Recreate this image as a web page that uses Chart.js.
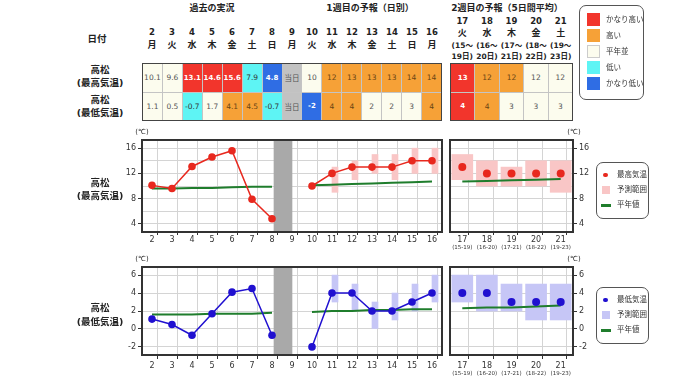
<!DOCTYPE html>
<html lang="ja">
<head>
<meta charset="utf-8">
<title>高松 2週間気温予報</title>
<script src="https://cdn.jsdelivr.net/npm/chart.js@4.4.1/dist/chart.umd.min.js"></script>
<style>
  body { margin: 0; }
  #page { position: relative; width: 680px; height: 382px; background: #fff; overflow: hidden;
          font-family: "DejaVu Sans", "Noto Sans CJK JP", sans-serif; color: #222; }
  .t { position: absolute; transform: translate(-50%, -50%); white-space: nowrap; font-weight: bold; line-height: 1; }
  .tl { position: absolute; transform: translate(0, -50%); white-space: nowrap; line-height: 1; font-size: 7.5px; color: #333; }
  canvas { position: absolute; }
  .tbl { position: absolute; display: grid; border: 1px solid #444; box-sizing: border-box; background: #c4c4c4; gap: 1px; }
  .cell { display: flex; align-items: center; justify-content: center; font-size: 7.5px; }
  .box { position: absolute; border: 1px solid #555; border-radius: 7px; box-sizing: border-box; background: #fff; }
  .sw { position: absolute; }
</style>
</head>
<body>
<div id="page">
  <canvas id="maxChart" width="350" height="130" style="left:100px;top:126px"></canvas>
  <canvas id="maxW2Chart" width="160" height="130" style="left:442px;top:126px"></canvas>
  <canvas id="minChart" width="350" height="129" style="left:100px;top:253px"></canvas>
  <canvas id="minW2Chart" width="160" height="129" style="left:442px;top:253px"></canvas>
</div>
<script>
// 日付（過去の実況〜1週目）
const days = [2, 3, 4, 5, 6, 7, 8, 9, 10, 11, 12, 13, 14, 15, 16];
const dayNames = ['月', '火', '水', '木', '金', '土', '日', '月', '火', '水', '木', '金', '土', '日', '月'];
const todayDay = 9;

const maxTemp = [10.1, 9.6, 13.1, 14.6, 15.6, 7.9, 4.8, null, 10, 12, 13, 13, 13, 14, 14];
const minTemp = [1.1, 0.5, -0.7, 1.7, 4.1, 4.5, -0.7, null, -2, 4, 4, 2, 2, 3, 4];
const maxClass = ['n', 'n', 'vh', 'vh', 'vh', 'l', 'vl', 't', 'n', 'h', 'h', 'h', 'h', 'h', 'h'];
const minClass = ['n', 'n', 'l', 'n', 'h', 'h', 'l', 't', 'vl', 'h', 'h', 'n', 'n', 'n', 'h'];
const maxNormal = [9.6, 9.6, 9.7, 9.7, 9.8, 9.9, 9.9, null, 10.1, 10.2, 10.3, 10.4, 10.5, 10.6, 10.7];
const minNormal = [1.6, 1.6, 1.6, 1.7, 1.7, 1.7, 1.8, null, 1.9, 2.0, 2.0, 2.1, 2.1, 2.2, 2.2];

// 予測範囲（11〜16日）
const rangeDays = [11, 12, 13, 14, 15, 16];
const maxRangeLo = [9, 11, 12, 11, 12, 12];
const maxRangeHi = [13, 14, 15, 15, 16, 16];
const minRangeLo = [3, 2, 0, 1, 2, 3];
const minRangeHi = [6, 5, 3, 4, 5, 6];

// 2週目（5日間平均）
const w2Days = [17, 18, 19, 20, 21];
const w2Names = ['火', '水', '木', '金', '土'];
const w2From = [15, 16, 17, 18, 19];
const w2To = [19, 20, 21, 22, 23];
const w2Max = [13, 12, 12, 12, 12];
const w2Min = [4, 4, 3, 3, 3];
const w2MaxClass = ['vh', 'h', 'h', 'n', 'n'];
const w2MinClass = ['vh', 'h', 'n', 'n', 'n'];
const w2MaxLo = [11, 10, 10, 10, 9];
const w2MaxHi = [15, 14, 13, 14, 14];
const w2MinLo = [3, 2, 2, 1, 1];
const w2MinHi = [6, 6, 5, 5, 5];
const w2MaxNormal = [10.7, 10.8, 10.9, 11.0, 11.1];
const w2MinNormal = [2.3, 2.4, 2.4, 2.5, 2.6];

// 縦軸
const maxTicks = [4, 6, 8, 10, 12, 14, 16];
const minTicks = [-2, 0, 2, 4, 6];
const maxExtent = [2.7, 17.3];
const minExtent = [-2.9, 6.9];

// 階級
const levelKeys = ['vh', 'h', 'n', 'l', 'vl'];
const levelNames = ['かなり高い', '高い', '平年並', '低い', 'かなり低い'];
const levelColors = { vh: '#f2352c', h: '#f6a137', n: '#fcfcee', l: '#5ef4f4', vl: '#2f6de4', t: '#c2c2c2' };
const levelText = { vh: '#fff', h: '#6a4514', n: '#555', l: '#333', vl: '#fff', t: '#555' };

const page = document.getElementById('page');

function txt(x, y, s, size, extra) {
  const el = document.createElement('div');
  el.className = 't';
  el.style.left = x + 'px';
  el.style.top = y + 'px';
  el.style.fontSize = size + 'px';
  if (extra) Object.assign(el.style, extra);
  el.textContent = s;
  page.appendChild(el);
  return el;
}

function ltxt(x, y, s) {
  const el = document.createElement('div');
  el.className = 'tl';
  el.style.left = x + 'px';
  el.style.top = y + 'px';
  el.textContent = s;
  page.appendChild(el);
}

function swatch(x, y, w, h, color, round) {
  const el = document.createElement('div');
  el.className = 'sw';
  Object.assign(el.style, { left: x + 'px', top: y + 'px', width: w + 'px', height: h + 'px', background: color });
  if (round) el.style.borderRadius = '50%';
  page.appendChild(el);
  return el;
}

// 見出し
txt(212, 8, '過去の実況', 9);
txt(370, 8, '1週目の予報（日別）', 9);
txt(507, 8, '2週目の予報（5日間平均）', 9);
txt(97, 39, '日付', 9.5);
txt(100, 70, '高松', 9.5);
txt(100, 83, '(最高気温)', 9.5);
txt(100, 100, '高松', 9.5);
txt(100, 113, '(最低気温)', 9.5);
txt(100, 183, '高松', 9.5);
txt(100, 196, '(最高気温)', 9.5);
txt(100, 308, '高松', 9.5);
txt(100, 322, '(最低気温)', 9.5);

days.forEach((d, i) => {
  const x = 152 + 20 * i;
  txt(x, 32, String(d), 8.5);
  txt(x, 45, dayNames[i], 9);
});
w2Days.forEach((d, i) => {
  const x = 450 + 24.6 * (i + 0.5);
  txt(x, 21, String(d), 8.5);
  txt(x, 33, w2Names[i], 9);
  txt(x, 46, '(' + w2From[i] + '～', 7.5);
  txt(x, 57, w2To[i] + '日)', 7.5);
});

// 表
function table(left, width, cols, rows) {
  const g = document.createElement('div');
  g.className = 'tbl';
  Object.assign(g.style, { left: left + 'px', top: '63px', width: width + 'px', height: '58px',
    gridTemplateColumns: 'repeat(' + cols + ', 1fr)', gridTemplateRows: '1fr 1fr' });
  rows.forEach(r => r.forEach(c => {
    const el = document.createElement('div');
    el.className = 'cell';
    el.style.background = levelColors[c.cls];
    el.style.color = levelText[c.cls];
    if (c.cls === 'vh' || c.cls === 'vl') {
      el.style.fontWeight = 'bold';
      el.style.fontSize = '7px';
    }
    el.textContent = c.text;
    g.appendChild(el);
  }));
  page.appendChild(g);
}

function cellText(v, d) {
  if (v === null) return '当日';
  return d < todayDay ? v.toFixed(1) : String(v);
}

table(142, 300, 15, [
  days.map((d, i) => ({ text: cellText(maxTemp[i], d), cls: maxClass[i] })),
  days.map((d, i) => ({ text: cellText(minTemp[i], d), cls: minClass[i] }))
]);
table(450, 123, 5, [
  w2Days.map((d, i) => ({ text: String(w2Max[i]), cls: w2MaxClass[i] })),
  w2Days.map((d, i) => ({ text: String(w2Min[i]), cls: w2MinClass[i] }))
]);

// 階級の凡例
const lb = document.createElement('div');
lb.className = 'box';
Object.assign(lb.style, { left: '579px', top: '5px', width: '65px', height: '95px' });
page.appendChild(lb);
levelKeys.forEach((k, i) => {
  const y = 19.5 + 16 * i;
  const s = swatch(587, y - 6.5, 13, 13, levelColors[k]);
  if (k === 'n') {
    s.style.boxSizing = 'border-box';
    s.style.border = '1px solid #ccc';
  }
  ltxt(606, y, levelNames[i]);
});

// グラフの凡例
function chartLegend(top, color, rangeColor, name) {
  const b = document.createElement('div');
  b.className = 'box';
  Object.assign(b.style, { left: '596px', top: top + 'px', width: '53px', height: '57px' });
  page.appendChild(b);
  swatch(603, top + 10.5, 4.5, 4.5, color, true);
  ltxt(617, top + 13, name);
  swatch(602, top + 24, 8, 8, rangeColor);
  ltxt(617, top + 28, '予測範囲');
  swatch(601, top + 42, 10, 2.5, '#1f7d2c');
  ltxt(617, top + 43, '平年値');
}
chartLegend(162, '#e8281e', '#f9c6c6', '最高気温');
chartLegend(287, '#2010d0', '#c6c6f6', '最低気温');

txt(142, 132, '(℃)', 7, { fontWeight: 'normal' });
txt(574, 132, '(℃)', 7, { fontWeight: 'normal' });
txt(142, 259, '(℃)', 7, { fontWeight: 'normal' });
txt(574, 259, '(℃)', 7, { fontWeight: 'normal' });

// グラフ
const frame = {
  id: 'frame',
  afterDatasetsDraw(chart) {
    const a = chart.chartArea, c = chart.ctx;
    c.save();
    c.strokeStyle = '#333';
    c.lineWidth = 2;
    c.strokeRect(a.left, a.top, a.right - a.left, a.bottom - a.top);
    c.restore();
  }
};

const tickFont = { family: 'DejaVu Sans', size: 8 };
const isInt = c => c.tick && Number.isInteger(c.tick.value);

function dayAxis(lo, hi, height, tickLen, pad) {
  return {
    type: 'linear', min: lo, max: hi, offset: false,
    afterBuildTicks: s => {
      const t = [];
      for (let v = lo; v <= hi + 0.01; v += 0.5) t.push({ value: v });
      s.ticks = t;
    },
    afterFit: s => { s.height = height; },
    grid: {
      color: c => isInt(c) ? 'rgba(0,0,0,0)' : '#d4d4d4',
      tickColor: c => isInt(c) ? 'rgba(0,0,0,0)' : '#333',
      tickLength: tickLen
    },
    border: { display: false },
    ticks: { autoSkip: false, maxRotation: 0, padding: pad, color: '#333', font: tickFont,
      callback: v => Number.isInteger(v) ? String(v) : '' }
  };
}

function tempAxis(ext, ticks, every, pos, width) {
  return {
    type: 'linear', position: pos, min: ext[0], max: ext[1],
    afterBuildTicks: s => { s.ticks = ticks.map(v => ({ value: v })); },
    afterFit: s => { s.width = width; },
    grid: { color: '#d4d4d4', tickColor: c => (c.tick && c.tick.value % every === 0) ? '#333' : 'rgba(0,0,0,0)', tickLength: 4 },
    border: { display: false },
    ticks: { padding: 2, color: '#333', font: tickFont, callback: v => v % every === 0 ? String(v) : '' }
  };
}

function subAxis(height) {
  return {
    type: 'linear', min: 16.5, max: 21.5, offset: false, position: 'bottom', weight: 1,
    afterBuildTicks: s => { s.ticks = w2Days.map(v => ({ value: v })); },
    afterFit: s => { s.height = height; },
    grid: { display: false, drawTicks: false },
    border: { display: false },
    ticks: { autoSkip: false, maxRotation: 0, padding: 0, color: '#333', font: { family: 'DejaVu Sans', size: 5.5 },
      callback: v => { const i = w2Days.indexOf(v); return '(' + w2From[i] + '-' + w2To[i] + ')'; } }
  };
}

function drawChart(id, datasets, scales, padding) {
  new Chart(document.getElementById(id), {
    type: 'line',
    data: { datasets },
    options: {
      responsive: false, animation: false, events: [],
      layout: { padding },
      plugins: { legend: { display: false }, tooltip: { enabled: false } },
      scales
    },
    plugins: [frame]
  });
}

function dailyChart(id, ext, ticks, every, vals, normals, lo, hi, color, rangeColor, xh, tl, pad) {
  drawChart(id, [
    { type: 'bar', xAxisID: 'xb', data: [{ x: todayDay, y: ext }], backgroundColor: '#a9a9a9',
      barThickness: 18, order: 5 },
    { type: 'bar', data: rangeDays.map((d, i) => ({ x: d, y: [lo[i], hi[i]] })), backgroundColor: rangeColor,
      barThickness: 6, order: 4 },
    { data: days.map((d, i) => ({ x: d, y: normals[i] })), borderColor: '#1f7d2c', borderWidth: 2,
      pointRadius: 0, spanGaps: false, order: 3 },
    { data: days.map((d, i) => ({ x: d, y: vals[i] })), borderColor: color, backgroundColor: color,
      borderWidth: 1.5, pointRadius: 3.8, pointBorderWidth: 0, spanGaps: false, order: 1 }
  ], {
    x: dayAxis(1.5, 16.5, xh, tl, pad),
    xb: { type: 'linear', min: 1.5, max: 16.5, offset: false, display: false },
    y: tempAxis(ext, ticks, every, 'left', 42)
  }, { top: 14, right: 8, left: 0, bottom: 0 });
}

function weekChart(id, ext, ticks, every, vals, normals, lo, hi, color, rangeColor, xh, tl, pad, sh) {
  drawChart(id, [
    { type: 'bar', data: w2Days.map((d, i) => ({ x: d, y: [lo[i], hi[i]] })), backgroundColor: rangeColor,
      barThickness: 21, order: 4 },
    { data: w2Days.map((d, i) => ({ x: d, y: normals[i] })), borderColor: '#1f7d2c', borderWidth: 2,
      pointRadius: 0, order: 3 },
    { data: w2Days.map((d, i) => ({ x: d, y: vals[i] })), showLine: false, backgroundColor: color,
      borderColor: color, pointRadius: 4, pointBorderWidth: 0, order: 1 }
  ], {
    x: dayAxis(16.5, 21.5, xh, tl, pad),
    xs: subAxis(sh),
    y: tempAxis(ext, ticks, every, 'right', 29)
  }, { top: 14, left: 8, right: 0, bottom: 0 });
}

dailyChart('maxChart', maxExtent, maxTicks, 4, maxTemp, maxNormal, maxRangeLo, maxRangeHi, '#e8281e', '#f9c6c6', 24, 3, 0);
weekChart('maxW2Chart', maxExtent, maxTicks, 4, w2Max, w2MaxNormal, w2MaxLo, w2MaxHi, '#e8281e', '#f9c6c6', 12, 3, 0, 12);
dailyChart('minChart', minExtent, minTicks, 2, minTemp, minNormal, minRangeLo, minRangeHi, '#2010d0', '#c6c6f6', 27, 4, 2);
weekChart('minW2Chart', minExtent, minTicks, 2, w2Min, w2MinNormal, w2MinLo, w2MinHi, '#2010d0', '#c6c6f6', 15, 4, 2, 12);
</script>
</body>
</html>
